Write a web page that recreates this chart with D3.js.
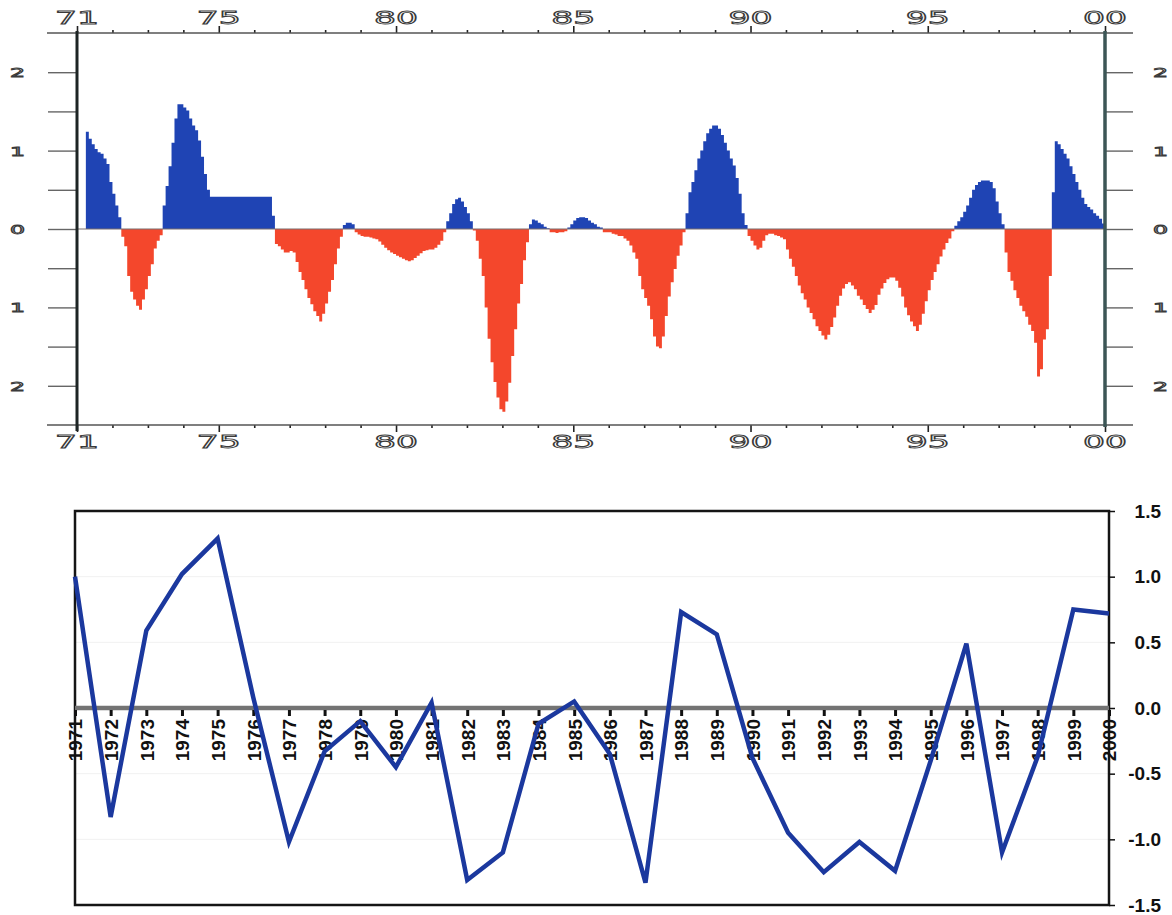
<!DOCTYPE html>
<html>
<head>
<meta charset="utf-8">
<script src="https://cdn.jsdelivr.net/npm/d3@7/dist/d3.min.js"></script>
<style>
  body { margin: 0; background: #fff; }
  svg { display: block; }
</style>
</head>
<body>
<div id="chart"></div>
<script>
// monthly index values, Jan 1971 .. Dec 1999 (one row per year)
var monthly1971 = [0, 0, 0, 1.24, 1.15, 1.08, 1.02, 0.98, 0.96, 0.9, 0.83, 0.6];
var monthly1972 = [0.45, 0.3, 0.15, -0.1, -0.22, -0.6, -0.8, -0.9, -0.98, -1.03, -0.9, -0.77];
var monthly1973 = [-0.6, -0.45, -0.25, -0.15, -0.08, 0.3, 0.55, 0.8, 1.1, 1.41, 1.59, 1.59];
var monthly1974 = [1.55, 1.51, 1.41, 1.32, 1.26, 1.13, 0.92, 0.7, 0.5, 0.41, 0.41, 0.41];
var monthly1975 = [0.41, 0.41, 0.41, 0.41, 0.41, 0.41, 0.41, 0.41, 0.41, 0.41, 0.41, 0.41];
var monthly1976 = [0.41, 0.41, 0.41, 0.41, 0.41, 0.41, 0.17, -0.19, -0.22, -0.26, -0.3, -0.3];
var monthly1977 = [-0.28, -0.3, -0.42, -0.55, -0.65, -0.77, -0.88, -0.96, -1.05, -1.11, -1.18, -1.08];
var monthly1978 = [-0.95, -0.8, -0.65, -0.45, -0.25, -0.1, 0.05, 0.08, 0.08, 0.06, -0.04, -0.07];
var monthly1979 = [-0.09, -0.1, -0.1, -0.11, -0.12, -0.13, -0.16, -0.2, -0.24, -0.27, -0.3, -0.32];
var monthly1980 = [-0.34, -0.36, -0.38, -0.4, -0.41, -0.4, -0.37, -0.34, -0.31, -0.28, -0.27, -0.26];
var monthly1981 = [-0.26, -0.24, -0.2, -0.15, -0.04, 0.1, 0.2, 0.32, 0.38, 0.4, 0.35, 0.28];
var monthly1982 = [0.2, 0.1, -0.02, -0.15, -0.38, -0.6, -1.0, -1.4, -1.7, -1.95, -2.15, -2.3];
var monthly1983 = [-2.33, -2.2, -1.96, -1.62, -1.28, -0.95, -0.7, -0.4, -0.17, 0.06, 0.12, 0.11];
var monthly1984 = [0.08, 0.06, 0.03, 0.01, -0.04, -0.04, -0.05, -0.04, -0.04, -0.03, 0.02, 0.06];
var monthly1985 = [0.11, 0.14, 0.15, 0.15, 0.14, 0.11, 0.08, 0.06, 0.03, 0.02, -0.04, -0.04];
var monthly1986 = [-0.04, -0.06, -0.07, -0.09, -0.09, -0.12, -0.15, -0.21, -0.3, -0.38, -0.6, -0.77];
var monthly1987 = [-0.88, -0.98, -1.15, -1.37, -1.5, -1.52, -1.37, -1.11, -0.86, -0.68, -0.51, -0.34];
var monthly1988 = [-0.21, -0.04, 0.2, 0.47, 0.6, 0.75, 0.9, 1.0, 1.12, 1.22, 1.28, 1.32];
var monthly1989 = [1.32, 1.28, 1.2, 1.1, 1.0, 0.9, 0.81, 0.65, 0.45, 0.2, 0.05, -0.09];
var monthly1990 = [-0.15, -0.21, -0.26, -0.24, -0.15, -0.08, -0.06, -0.06, -0.08, -0.09, -0.11, -0.13];
var monthly1991 = [-0.26, -0.38, -0.48, -0.6, -0.72, -0.82, -0.9, -1.0, -1.07, -1.15, -1.24, -1.3];
var monthly1992 = [-1.36, -1.41, -1.35, -1.25, -1.13, -0.98, -0.85, -0.76, -0.7, -0.68, -0.72, -0.77];
var monthly1993 = [-0.85, -0.9, -0.97, -1.02, -1.07, -1.03, -0.97, -0.84, -0.76, -0.69, -0.64, -0.62];
var monthly1994 = [-0.62, -0.66, -0.75, -0.86, -1.0, -1.1, -1.18, -1.24, -1.3, -1.22, -1.08, -0.92];
var monthly1995 = [-0.78, -0.65, -0.55, -0.45, -0.35, -0.26, -0.18, -0.12, -0.03, 0.04, 0.1, 0.15];
var monthly1996 = [0.22, 0.3, 0.4, 0.5, 0.56, 0.6, 0.62, 0.62, 0.62, 0.6, 0.52, 0.35];
var monthly1997 = [0.2, 0.06, -0.3, -0.55, -0.66, -0.78, -0.88, -0.98, -1.05, -1.12, -1.22, -1.3];
var monthly1998 = [-1.45, -1.88, -1.79, -1.41, -1.28, -0.6, 0.47, 1.12, 1.08, 1.02, 0.96, 0.9];
var monthly1999 = [0.8, 0.7, 0.6, 0.5, 0.4, 0.32, 0.28, 0.25, 0.2, 0.17, 0.13, 0.07];

var topTickLabels = ["71", "75", "80", "85", "90", "95", "00"];
var topLabelYears = [1971, 1975, 1980, 1985, 1990, 1995, 2000];
var topYTicks = [-2, -1.5, -1, -0.5, 0, 0.5, 1, 1.5, 2];

// annual series (bottom panel)
var years = [1971, 1972, 1973, 1974, 1975, 1976, 1977, 1978, 1979, 1980,
             1981, 1982, 1983, 1984, 1985, 1986, 1987, 1988, 1989, 1990,
             1991, 1992, 1993, 1994, 1995, 1996, 1997, 1998, 1999, 2000];
var annual = [1.0, -0.83, 0.59, 1.02, 1.29, 0.08, -1.02, -0.33, -0.1, -0.45,
              0.04, -1.31, -1.1, -0.12, 0.05, -0.35, -1.33, 0.73, 0.56, -0.38,
              -0.95, -1.25, -1.02, -1.24, -0.4, 0.49, -1.1, -0.37, 0.75, 0.72];
var bottomYTicks = [1.5, 1.0, 0.5, 0.0, -0.5, -1.0, -1.5];

var monthly = [].concat(monthly1971, monthly1972, monthly1973, monthly1974, monthly1975,
  monthly1976, monthly1977, monthly1978, monthly1979, monthly1980, monthly1981, monthly1982,
  monthly1983, monthly1984, monthly1985, monthly1986, monthly1987, monthly1988, monthly1989,
  monthly1990, monthly1991, monthly1992, monthly1993, monthly1994, monthly1995, monthly1996,
  monthly1997, monthly1998, monthly1999);

var svg = d3.select("#chart").append("svg")
    .attr("width", 1172)
    .attr("height", 915);

svg.append("rect").attr("width", 1172).attr("height", 915).attr("fill", "#fff");

// ---------- top panel ----------
var xTop = d3.scaleLinear().domain([1971, 2000]).range([77, 1105]);
var yTop = d3.scaleLinear().domain([-2.5, 2.5]).range([425, 33]);

var pts = monthly.map(function(v, i) { return {t: 1971 + i / 12, v: v}; });
pts.push({t: 2000, v: monthly[monthly.length - 1]});

var gTop = svg.append("g");

gTop.append("path")
    .datum(pts)
    .attr("fill", "#1f44b4")
    .attr("d", d3.area().curve(d3.curveStepAfter)
      .x(function(d) { return xTop(d.t); })
      .y0(yTop(0))
      .y1(function(d) { return yTop(Math.max(d.v, 0)); }));

gTop.append("path")
    .datum(pts)
    .attr("fill", "#f4472c")
    .attr("d", d3.area().curve(d3.curveStepAfter)
      .x(function(d) { return xTop(d.t); })
      .y0(yTop(0))
      .y1(function(d) { return yTop(Math.min(d.v, 0)); }));

// zero line
gTop.append("line")
    .attr("x1", xTop(1971)).attr("x2", xTop(2000))
    .attr("y1", yTop(0)).attr("y2", yTop(0))
    .attr("stroke", "#7a6f6f").attr("stroke-width", 1.2);

var allYears = d3.range(1971, 2001);
var minorYears = allYears.filter(function(y) { return topLabelYears.indexOf(y) < 0; });

function yearAxis(axisFn, yPos, size, vals) {
  var g = gTop.append("g")
      .attr("transform", "translate(0," + yPos + ")")
      .call(axisFn(xTop).tickValues(vals).tickSize(size).tickFormat(""));
  g.select(".domain").remove();
  g.selectAll("line").attr("stroke", "#222").attr("stroke-width", 1.6);
  return g;
}
yearAxis(d3.axisTop, yTop(2.5), 3, minorYears);
yearAxis(d3.axisTop, yTop(2.5), 7, topLabelYears);
yearAxis(d3.axisBottom, yTop(-2.5), 3, minorYears);
yearAxis(d3.axisBottom, yTop(-2.5), 7, topLabelYears);

// top and bottom frame lines
[2.5, -2.5].forEach(function(v) {
  gTop.append("line")
      .attr("x1", 47).attr("x2", 1133)
      .attr("y1", yTop(v)).attr("y2", yTop(v))
      .attr("stroke", "#555").attr("stroke-width", 1.5);
});

// y axes (left and right)
var gl = gTop.append("g")
    .attr("transform", "translate(" + xTop(1971) + ",0)")
    .call(d3.axisLeft(yTop).tickValues(topYTicks).tickSize(29).tickFormat(""));
var gr = gTop.append("g")
    .attr("transform", "translate(" + xTop(2000) + ",0)")
    .call(d3.axisRight(yTop).tickValues(topYTicks).tickSize(28).tickFormat(""));
[gl, gr].forEach(function(g) {
  g.select(".domain").remove();
  g.selectAll("line").attr("stroke", "#666").attr("stroke-width", 1.4);
});

gTop.append("line")
    .attr("x1", xTop(1971)).attr("x2", xTop(1971))
    .attr("y1", yTop(2.5) - 2).attr("y2", yTop(-2.5) + 6)
    .attr("stroke", "#1d2424").attr("stroke-width", 3);
gTop.append("line")
    .attr("x1", xTop(2000)).attr("x2", xTop(2000))
    .attr("y1", yTop(2.5) - 2).attr("y2", yTop(-2.5) + 2)
    .attr("stroke", "#3c5656").attr("stroke-width", 3.5);

// outline style labels
function outlineText(sel) {
  sel.attr("font-family", "DejaVu Sans")
     .attr("fill", "#fff")
     .attr("stroke", "#3a3a3a")
     .attr("stroke-width", 0.9)
     .attr("lengthAdjust", "spacingAndGlyphs");
}

topLabelYears.forEach(function(yr, i) {
  [24, 448].forEach(function(ty) {
    gTop.append("text")
        .attr("x", xTop(yr) - 22)
        .attr("y", ty)
        .attr("font-size", 17)
        .attr("textLength", 44)
        .call(outlineText)
        .text(topTickLabels[i]);
  });
});

[-2, -1, 0, 1, 2].forEach(function(v) {
  [10, 1153].forEach(function(tx) {
    gTop.append("text")
        .attr("x", tx)
        .attr("y", yTop(v) + 5)
        .attr("font-size", 12)
        .attr("textLength", 15)
        .call(outlineText)
        .text(Math.abs(v));
  });
});

// ---------- bottom panel ----------
var xBot = d3.scaleLinear().domain([1971, 2000]).range([75, 1109]);
var yBot = d3.scaleLinear().domain([-1.5, 1.5]).range([905, 511]);

var gBot = svg.append("g");

// faint gridlines
bottomYTicks.forEach(function(v) {
  if (v === 0 || Math.abs(v) === 1.5) return;
  gBot.append("line")
      .attr("x1", xBot(1971)).attr("x2", xBot(2000))
      .attr("y1", yBot(v)).attr("y2", yBot(v))
      .attr("stroke", "#f1f1f1").attr("stroke-width", 1);
});

gBot.append("rect")
    .attr("x", xBot(1971)).attr("y", yBot(1.5))
    .attr("width", xBot(2000) - xBot(1971))
    .attr("height", yBot(-1.5) - yBot(1.5))
    .attr("fill", "none").attr("stroke", "#151515").attr("stroke-width", 2.5);

// zero axis with year ticks
gBot.append("line")
    .attr("x1", xBot(1971)).attr("x2", xBot(2000))
    .attr("y1", yBot(0)).attr("y2", yBot(0))
    .attr("stroke", "#737373").attr("stroke-width", 4.5);

var gx = gBot.append("g")
    .attr("transform", "translate(0," + (yBot(0) + 2) + ")")
    .call(d3.axisBottom(xBot).tickValues(years).tickSize(6).tickFormat(d3.format("d")));
gx.select(".domain").remove();
gx.selectAll("line").attr("stroke", "#111").attr("stroke-width", 3);
gx.selectAll("text")
    .attr("font-family", "Liberation Sans, Arial, sans-serif")
    .attr("font-weight", "bold")
    .attr("font-size", 19)
    .attr("fill", "#111")
    .attr("text-anchor", "end")
    .attr("transform", "rotate(-90)")
    .attr("x", -9)
    .attr("y", 0)
    .attr("dy", "0.36em");

var gy = gBot.append("g")
    .attr("transform", "translate(" + xBot(2000) + ",0)")
    .call(d3.axisRight(yBot).tickValues(bottomYTicks).tickSize(6).tickFormat(d3.format(".1f")));
gy.select(".domain").remove();
gy.selectAll("line").attr("stroke", "#111").attr("stroke-width", 1.5);
gy.selectAll("text")
    .attr("font-family", "Liberation Sans, Arial, sans-serif")
    .attr("font-weight", "bold")
    .attr("font-size", 19)
    .attr("fill", "#111")
    .attr("text-anchor", "end")
    .attr("x", 52)
    .text(function(d) { return d3.format(".1f")(d).replace("\u2212", "-"); });

gBot.append("path")
    .datum(annual)
    .attr("fill", "none")
    .attr("stroke", "#1b389e")
    .attr("stroke-width", 4.5)
    .attr("stroke-linejoin", "miter")
    .attr("d", d3.line()
      .x(function(d, i) { return xBot(years[i]); })
      .y(function(d) { return yBot(d); }));
</script>
</body>
</html>
